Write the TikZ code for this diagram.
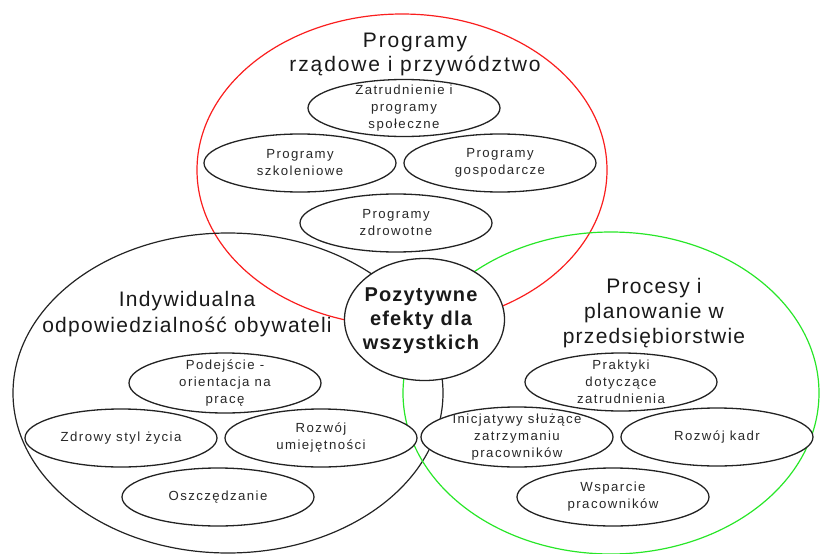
\documentclass[tikz,border=0pt]{standalone}
\usepackage{fontspec}
\setmainfont{Liberation Sans}
\newfontfamily\hdf[LetterSpace=6]{Liberation Sans}
\newfontfamily\hdfw[LetterSpace=9]{Liberation Sans}
\newfontfamily\smf[LetterSpace=11]{Liberation Sans}
\usetikzlibrary{shapes.geometric}
\definecolor{cred}{RGB}{250,30,30}
\definecolor{cgreen}{RGB}{40,230,40}
\definecolor{cline}{RGB}{35,35,35}
\definecolor{ctext}{RGB}{40,40,40}
\tikzset{
  big/.style={ellipse, draw, line width=1.2pt, inner sep=0pt},
  sm/.style={ellipse, draw=cline, fill=white, line width=1.3pt, inner sep=0pt, minimum width=192pt, minimum height=58pt},
  smtxt/.style={align=center, text=ctext, inner sep=0pt, font=\smf\fontsize{13.2}{17}\selectfont},
  hdtxt/.style={align=center, text=black!90, inner sep=0pt},
}
\begin{document}
\begin{tikzpicture}[x=1pt,y=-1pt]
\useasboundingbox (0,0) rectangle (820,554);
% big ellipses
\node[big, draw=cred, minimum width=410pt, minimum height=312pt] (R) at (402,170) {};
\node[big, draw=cline, minimum width=430pt, minimum height=320pt] (L) at (228,393) {};
\node[big, draw=cgreen, minimum width=416pt, minimum height=322pt] (G) at (611,393) {};
% headers
\node[hdtxt, font=\hdfw\fontsize{21}{23.5}\selectfont] (hR) at (415,54.5) {Programy\\rządowe i przywództwo};
\node[hdtxt, font=\hdf\fontsize{21}{26}\selectfont] (hL) at (187,314.5) {Indywidualna\\odpowiedzialność obywateli};
\node[hdtxt, font=\hdf\fontsize{21}{25}\selectfont] (hG) at (654,313) {Procesy i\\planowanie w\\przedsiębiorstwie};
% small ellipses, top group
\node[sm, minimum height=57pt] (z1) at (404,108) {};
\node[smtxt] at (z1) {Zatrudnienie i\\programy\\społeczne};
\node[sm] (z2) at (300,163) {};
\node[smtxt] at (z2) {Programy\\szkoleniowe};
\node[sm] (z3) at (500,163) {};
\node[smtxt] at (z3) {Programy\\gospodarcze};
\node[sm] (z4) at (396,223) {};
\node[smtxt] at (z4) {Programy\\zdrowotne};
% left group
\node[sm, minimum height=60pt] (a1) at (225,383) {};
\node[smtxt] at (a1) {Podejście -\\orientacja na\\pracę};
\node[sm] (a2) at (121,438) {};
\node[smtxt] at (a2) {Zdrowy styl życia};
\node[sm] (a3) at (321,438) {};
\node[smtxt] at (a3) {Rozwój\\umiejętności};
\node[sm] (a4) at (218,497) {};
\node[smtxt] at (a4) {Oszczędzanie};
% right group
\node[sm] (b1) at (621,382) {};
\node[smtxt] at (b1) {Praktyki\\dotyczące\\zatrudnienia};
\node[sm, minimum height=60pt] (b2) at (517,437) {};
\node[smtxt] at (b2) {Inicjatywy służące\\zatrzymaniu\\pracowników};
\node[sm] (b3) at (717,437) {};
\node[smtxt] at (b3) {Rozwój kadr};
\node[sm] (b4) at (613,497) {};
\node[smtxt] at (b4) {Wsparcie\\pracowników};
% centre
\node[ellipse, draw=cline, fill=white, line width=1.3pt, inner sep=0pt, minimum width=160pt, minimum height=122pt] (C) at (424.5,319.5) {};
\node[align=center, inner sep=0pt, text=black!90, font=\hdf\bfseries\fontsize{20}{24}\selectfont] (Ct) at (421,320.5) {Pozytywne\\efekty dla\\wszystkich};
\end{tikzpicture}
\end{document}
